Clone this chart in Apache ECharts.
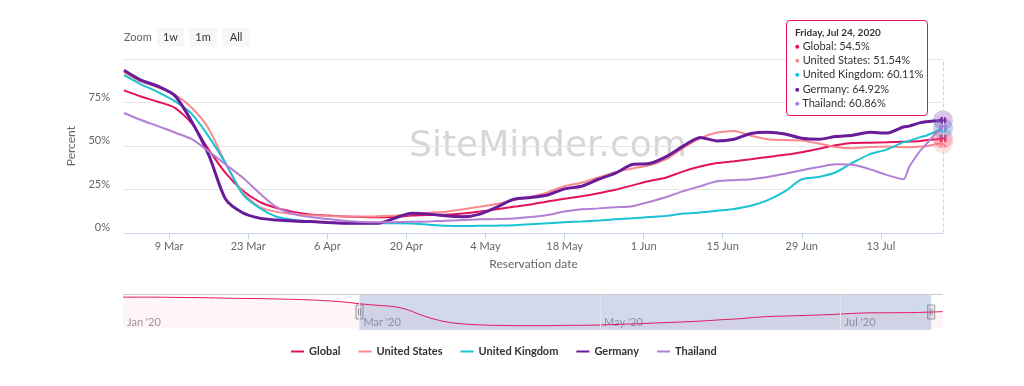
<!DOCTYPE html>
<html><head><meta charset="utf-8">
<script src="https://cdn.jsdelivr.net/npm/echarts@6/dist/echarts.min.js"></script>
<style>html,body{margin:0;padding:0;background:#fff}#c{width:1024px;height:386px}</style>
</head><body><div id="c"></div>
<script>
// day offsets from 1 Mar 2020
const days = [0,3,6,9,12,15,18,21,24,27,30,33,36,39,42,45,48,51,54,57,60,63,66,69,72,75,78,81,84,87,90,93,96,99,102,105,108,111,114,117,120,123,126,129,132,135,138,139,141,142,144,145];
const globalVals = [82,78.5,75.5,72,63,48,34.5,24.5,18,14.5,12.3,10.8,10.2,9.6,9.3,9.2,9.5,10.2,10.5,10.6,11.3,12.5,13.8,15.2,16.5,18.3,19.8,21.3,23,25,27.5,30,32,35.5,38.3,40.3,41.3,42.5,43.8,45,46.5,48.5,50.5,51.8,52,52.2,52.5,52.6,53,53.4,54,54.5];
const usVals = [92.5,87,83.7,79.5,72,60,40,23.5,15,12.3,11,10.3,9.9,9.7,9.6,9.8,10.2,11,11.8,12.4,13.8,15.3,16.8,19,21,23.5,27,29,32,35,37.2,39,42.5,49,54.5,57.8,58.7,56,54,53.5,53.3,51.5,49.5,48.8,49.5,49.8,49.4,49.4,49.8,50,51.2,51.54];
const ukVals = [90.7,85.5,81,75.8,68.5,55.5,40,22.5,14.5,9.5,7.8,6.8,6.2,5.8,5.7,5.7,5.7,5.6,4.9,4.3,4.2,4.3,4.4,4.6,5.2,5.8,6.4,6.8,7.3,8,8.6,9.3,10,11.3,12,13,14,15.8,19,24,31,32.3,35,40.5,45.3,48,52.3,53,55.2,56,58.8,60.11];
const germanyVals = [93.6,87.9,84.4,79,64,45,19.5,11.8,8.7,7.6,7,6.7,6.2,5.8,5.7,5.8,8.8,11.5,11,10,9.5,11,15,19.5,20.5,22,25.5,27,31,34.5,39.5,40,44,50,55,53,54,57.3,58,57,54.5,54,55.5,56.3,58,57.5,61,61.5,63.5,64,64.6,64.92];
const thailandVals = [69,65,61.5,57.8,54,47,39.5,32,23,15,11,9.3,8.2,7.2,6.5,6.3,6.4,6.6,6.8,7.2,7.6,8,8.2,8.5,9.3,10.5,12.5,13.8,14.3,14.9,15.5,18,20.8,24.2,27,29.8,30.5,31,32.3,34.2,36.2,38,39.6,39.3,36.8,33.5,31,38,47.5,51,58.5,60.86];

const seriesNames = ['Global','United States','United Kingdom','Germany','Thailand'];
const seriesVals = [globalVals, usVals, ukVals, germanyVals, thailandVals];
const colors = ['#e2135c','#f98a8d','#1ac3d3','#6a1b9a','#b27fd6'];
const widths = [2,2,2,3,2];
const endSymbols = ['rect','triangle','rect','circle','diamond'];

const tickDays = [8,22,36,50,64,78,92,106,120,134];
const tickLabels = ['9 Mar','23 Mar','6 Apr','20 Apr','4 May','18 May','1 Jun','15 Jun','29 Jun','13 Jul'];

// navigator: day offsets from 1 Jan 2020
const navEarlyDays = [0,7,14,21,28,35,42,49,56];
const navEarlyVals = [104,104,103,102,100,99,97,94,88];
const navLateDays = [208];
const navLateVals = [56];
const navOffset = 60;
const navTickDays = [0,60,121,182];
const navTickLabels = ["Jan '20","Mar '20","May '20","Jul '20"];
const navSelStart = 60, navSelEnd = 205;

const weekdays = ['Sunday','Monday','Tuesday','Wednesday','Thursday','Friday','Saturday'];
const months = ['Jan','Feb','Mar','Apr','May','Jun','Jul','Aug','Sep','Oct','Nov','Dec'];

const chart = echarts.init(document.getElementById('c'));
const last = days.length - 1;

const navData = navEarlyDays.map((d,i)=>[d, navEarlyVals[i]])
  .concat(days.map((d,i)=>[d+navOffset, globalVals[i]]))
  .concat(navLateDays.map((d,i)=>[d, navLateVals[i]]));

const mainSeries = seriesNames.map((n,k)=>({
  name:n, type:'line', xAxisIndex:0, yAxisIndex:0,
  data: days.map((d,i)=>[d, seriesVals[k][i]]),
  symbol:'none', smooth:0.25,
  lineStyle:{color:colors[k], width:widths[k]},
  itemStyle:{color:colors[k]},
  emphasis:{disabled:true},
  markPoint:{silent:true, label:{show:false}, animation:false,
    data:[
      {coord:[days[last], seriesVals[k][last]], symbol:'circle', symbolSize:20, itemStyle:{color:colors[k], opacity:0.25}},
      {coord:[days[last], seriesVals[k][last]], symbol:endSymbols[k], symbolSize:7, itemStyle:{color:colors[k]}}
    ]}
}));

function tipHtml(){
  const dt = new Date(2020, 2, 1 + days[last]);
  const head = `${weekdays[dt.getDay()]}, ${months[dt.getMonth()]} ${dt.getDate()}, ${dt.getFullYear()}`;
  let s = `<div style="font-size:10px;font-weight:bold;color:#333;line-height:13px">${head}</div>`;
  seriesNames.forEach((n,k)=>{
    s += `<div style="font-size:11px;color:#333;line-height:13.2px"><span style="color:${colors[k]};font-size:8px;vertical-align:1px">&#9679;</span> ${n}: ${seriesVals[k][last]}%</div>`;
  });
  return s;
}

chart.setOption({
  animation:false,
  textStyle:{fontFamily:'Lato'},
  grid:[{left:124, right:81, top:59, bottom:152.7},{left:123, right:81, top:295, height:35}],
  legend:{data:seriesNames, left:286, top:341, icon:'rect', itemWidth:13, itemHeight:2, itemGap:18,
    textStyle:{color:'#333', fontSize:11, fontWeight:'bold', fontFamily:'Lato'}},
  tooltip:{trigger:'axis', triggerOn:'none', alwaysShowContent:true, position:[786,20],
    backgroundColor:'#fff', borderColor:'#e2135c', borderWidth:1, padding:[5,8,5,8],
    extraCssText:'border-radius:4px;box-shadow:none;font-family:Lato;width:124px;',
    transitionDuration:0,
    axisPointer:{type:'line', animation:false, lineStyle:{color:'#ccd6eb', width:1}},
    formatter: tipHtml},
  xAxis:[
    {type:'value', gridIndex:0, min:0, max:145,
     axisLine:{lineStyle:{color:'#ccd6eb'}},
     axisTick:{show:true, customValues:tickDays, length:6, lineStyle:{color:'#ccd6eb'}},
     axisLabel:{customValues:tickDays, formatter:v=>tickLabels[tickDays.indexOf(v)], color:'#666', fontSize:11, margin:8},
     splitLine:{show:false},
     name:'Reservation date', nameLocation:'middle', nameGap:25, nameTextStyle:{color:'#666', fontSize:12}},
    {type:'value', gridIndex:1, min:0, max:208,
     axisLine:{show:false}, axisTick:{show:false}, splitLine:{show:false},
     axisPointer:{show:false},
     axisLabel:{customValues:navTickDays, formatter:v=>navTickLabels[navTickDays.indexOf(v)], inside:true, align:'left', color:'#999', fontSize:11, margin:2, padding:[0,0,0,4]}}
  ],
  yAxis:[
    {type:'value', gridIndex:0, min:0, max:100, interval:25,
     axisLabel:{formatter:v=> v===100 ? '' : v+'%', color:'#666', fontSize:11, verticalAlign:'bottom', margin:14},
     splitLine:{lineStyle:{color:'#e6e6e6'}}, axisLine:{show:false}, axisTick:{show:false},
     name:'Percent', nameLocation:'middle', nameGap:44, nameTextStyle:{color:'#666', fontSize:12}},
    {type:'value', gridIndex:1, min:-5, max:111, show:false}
  ],
  series: mainSeries.concat([{
    name:'nav', type:'line', xAxisIndex:1, yAxisIndex:1, data:navData, symbol:'none', smooth:0.25,
    lineStyle:{color:'#e2135c', width:1}, areaStyle:{color:'rgba(226,19,92,0.06)'},
    emphasis:{disabled:true}, silent:true,
    markArea:{silent:true, itemStyle:{color:'rgba(102,133,194,0.3)'}, data:[[{xAxis:navSelStart},{xAxis:navSelEnd}]]},
    markLine:{silent:true, symbol:'none', label:{show:false}, lineStyle:{color:'#e6e6e6', type:'solid', width:1},
      data: navTickDays.slice(1).map(d=>({xAxis:d}))}
  }])
});

const hx1 = chart.convertToPixel({xAxisIndex:1}, navSelStart);
const hx2 = chart.convertToPixel({xAxisIndex:1}, navSelEnd);
function handle(x){
  return {type:'group', children:[
    {type:'rect', shape:{x:x-3.5, y:305, width:7, height:14}, style:{fill:'#f2f2f2', stroke:'#999', lineWidth:1}},
    {type:'line', shape:{x1:x-1, y1:308.5, x2:x-1, y2:315.5}, style:{stroke:'#999', lineWidth:1}},
    {type:'line', shape:{x1:x+1, y1:308.5, x2:x+1, y2:315.5}, style:{stroke:'#999', lineWidth:1}}
  ]};
}
function btn(x, label){
  return {type:'group', children:[
    {type:'rect', shape:{x:x, y:28, width:27.5, height:18.5, r:2}, style:{fill:'#f7f7f7'}},
    {type:'text', style:{x:x+13.75, y:37.2, text:label, fill:'#333', font:'11px Lato', align:'center', verticalAlign:'middle'}}
  ]};
}
chart.setOption({graphic:[
  {type:'text', z:-1, style:{x:548, y:147, text:'SiteMinder.com', fill:'#d6d6d6', font:'normal 36px "DejaVu Sans"', align:'center', verticalAlign:'middle'}},
  {type:'text', style:{x:124, y:37, text:'Zoom', fill:'#666', font:'11px Lato', align:'left', verticalAlign:'middle'}},
  btn(156.7,'1w'), btn(189.3,'1m'), btn(222.3,'All'),
  {type:'line', shape:{x1:123, y1:294.5, x2:943, y2:294.5}, style:{stroke:'#cccccc', lineWidth:1}},
  handle(hx1), handle(hx2)
]});
chart.dispatchAction({type:'showTip', seriesIndex:0, dataIndex:last});
</script></body></html>
